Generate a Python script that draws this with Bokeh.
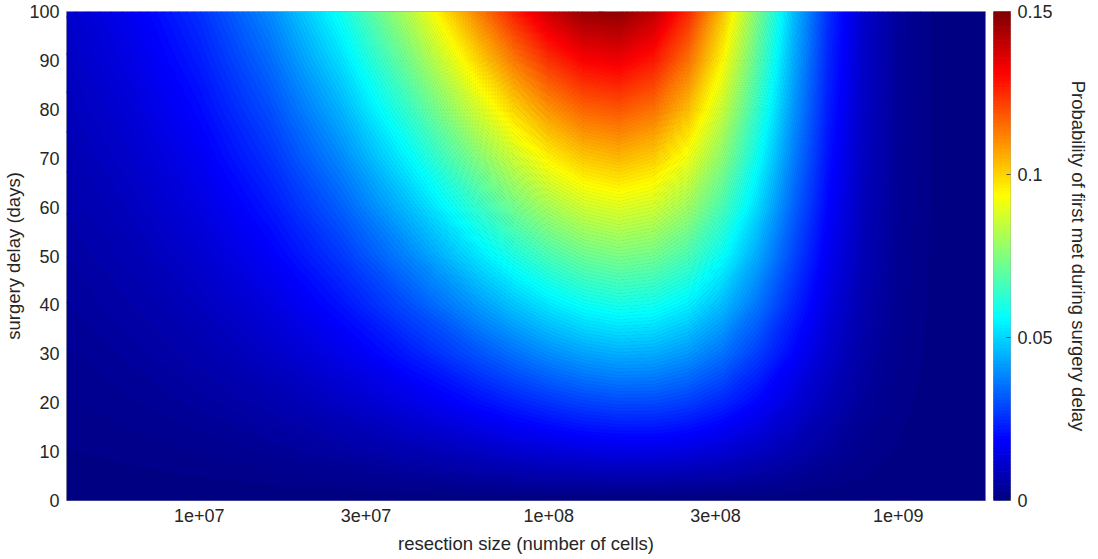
import numpy as np
from bokeh.plotting import figure
from bokeh.layouts import row
from bokeh.models import FixedTicker, Range1d
from bokeh.embed import file_html
from bokeh.resources import INLINE

# ---------------- data ----------------
# resection size (number of cells) at each grid column
sizes = [4.17e6, 6.31e6, 1.0e7, 1.585e7, 2.512e7, 3.981e7, 6.31e7, 7.943e7,
         1.0e8, 1.259e8, 1.585e8, 1.995e8, 2.512e8, 3.162e8, 3.981e8, 5.012e8,
         6.31e8, 7.943e8, 1.0e9, 1.259e9, 1.778e9]
# surgery delay (days) at each grid row
days = [0, 5, 10, 20, 30, 40, 50, 60, 70, 80, 90, 100]

# probability of first met during surgery delay, one list per delay row
prob_d000 = [0.0] * 21
prob_d005 = [0.00046, 0.00069, 0.00106, 0.00163, 0.00246, 0.00359, 0.00500, 0.00575, 0.00646, 0.00704, 0.00740,
             0.00742, 0.00701, 0.00615, 0.00492, 0.00349, 0.00214, 0.00109, 0.00044, 0.00013, 0.00001]
prob_d010 = [0.00093, 0.00139, 0.00215, 0.00330, 0.00496, 0.00724, 0.01007, 0.01157, 0.01298, 0.01413, 0.01482,
             0.01482, 0.01396, 0.01221, 0.00971, 0.00686, 0.00417, 0.00210, 0.00084, 0.00025, 0.00002]
prob_d020 = [0.00189, 0.00283, 0.00438, 0.00672, 0.01010, 0.01471, 0.02041, 0.02340, 0.02618, 0.02842, 0.02969,
             0.02955, 0.02768, 0.02402, 0.01893, 0.01321, 0.00792, 0.00392, 0.00153, 0.00044, 0.00003]
prob_d030 = [0.00289, 0.00432, 0.00670, 0.01027, 0.01542, 0.02242, 0.03101, 0.03548, 0.03961, 0.04286, 0.04459,
             0.04417, 0.04112, 0.03541, 0.02765, 0.01908, 0.01128, 0.00548, 0.00209, 0.00059, 0.00004]
prob_d040 = [0.00394, 0.00588, 0.00911, 0.01395, 0.02092, 0.03036, 0.04187, 0.04781, 0.05324, 0.05742, 0.05951,
             0.05865, 0.05426, 0.04637, 0.03586, 0.02446, 0.01426, 0.00682, 0.00255, 0.00070, 0.00005]
prob_d050 = [0.00502, 0.00750, 0.01162, 0.01777, 0.02661, 0.03855, 0.05300, 0.06039, 0.06706, 0.07210, 0.07441,
             0.07296, 0.06708, 0.05688, 0.04357, 0.02938, 0.01689, 0.00795, 0.00291, 0.00078, 0.00005]
prob_d060 = [0.00615, 0.00918, 0.01422, 0.02173, 0.03250, 0.04699, 0.06439, 0.07321, 0.08108, 0.08686, 0.08927,
             0.08707, 0.07954, 0.06691, 0.05077, 0.03385, 0.01919, 0.00889, 0.00320, 0.00084, 0.00005]
prob_d070 = [0.00732, 0.01093, 0.01692, 0.02583, 0.03858, 0.05567, 0.07605, 0.08626, 0.09526, 0.10170, 0.10406,
             0.10096, 0.09162, 0.07646, 0.05746, 0.03788, 0.02120, 0.00968, 0.00343, 0.00089, 0.00006]
prob_d080 = [0.00854, 0.01275, 0.01972, 0.03008, 0.04487, 0.06461, 0.08796, 0.09954, 0.10960, 0.11658, 0.11876,
             0.11459, 0.10330, 0.08552, 0.06366, 0.04150, 0.02294, 0.01033, 0.00361, 0.00092, 0.00006]
prob_d090 = [0.00981, 0.01464, 0.02263, 0.03449, 0.05138, 0.07380, 0.10012, 0.11303, 0.12408, 0.13149, 0.13334,
             0.12794, 0.11455, 0.09408, 0.06937, 0.04473, 0.02442, 0.01085, 0.00374, 0.00094, 0.00006]
prob_d100 = [0.01113, 0.01660, 0.02565, 0.03906, 0.05809, 0.08326, 0.11253, 0.12673, 0.13868, 0.14641, 0.14777,
             0.14098, 0.12537, 0.10213, 0.07460, 0.04760, 0.02569, 0.01128, 0.00384, 0.00096, 0.00006]

x_ticks = [1e7, 3e7, 1e8, 3e8, 1e9]
x_tick_labels = ["1e+07", "3e+07", "1e+08", "3e+08", "1e+09"]
y_ticks = [0, 10, 20, 30, 40, 50, 60, 70, 80, 90, 100]
cbar_ticks = [0, 0.05, 0.1, 0.15]
cbar_tick_labels = ["0", "0.05", "0.1", "0.15"]
cbar_max = 0.15

# ---------------- styling ----------------
FONT = "Liberation Sans"
TXT = "#262626"
EDGE = "#a6a6a6"
TOP, FRAME_H, BOTTOM = 11, 489, 59


def jet(f):
    r = min(max(1.5 - abs(4 * f - 3), 0.0), 1.0)
    g = min(max(1.5 - abs(4 * f - 2), 0.0), 1.0)
    b = min(max(1.5 - abs(4 * f - 1), 0.0), 1.0)
    return "#%02x%02x%02x" % (round(r * 255), round(g * 255), round(b * 255))


n_levels = 150
levels = np.linspace(0, cbar_max, n_levels + 1)
colors = [jet((i + 0.5) / n_levels) for i in range(n_levels)]
line_colors = [colors[0]] + colors

logx = np.log10(np.array(sizes))
z = np.array([prob_d000, prob_d005, prob_d010, prob_d020, prob_d030, prob_d040,
              prob_d050, prob_d060, prob_d070, prob_d080, prob_d090, prob_d100])
yv = np.array(days, dtype=float)

p = figure(frame_width=919, frame_height=FRAME_H,
           x_range=Range1d(logx[0], logx[-1]), y_range=Range1d(0, 100),
           output_backend="svg", toolbar_location=None,
           min_border_left=61, min_border_top=TOP, min_border_right=8, min_border_bottom=BOTTOM)
p.background_fill_color = "#000080"
p.border_fill_color = "white"
p.contour(logx, yv, z, levels=levels, fill_color=colors,
          line_color=line_colors, line_width=1.0)

p.grid.visible = False
p.outline_line_color = EDGE
p.outline_line_width = 1

p.xaxis.ticker = FixedTicker(ticks=[float(v) for v in np.log10(x_ticks)])
p.xaxis.major_label_overrides = {float(v): lab for v, lab in zip(np.log10(x_ticks), x_tick_labels)}
p.yaxis.ticker = FixedTicker(ticks=y_ticks)
p.xaxis.axis_label = "resection size (number of cells)"
p.yaxis.axis_label = "surgery delay (days)"
for ax in (p.xaxis[0], p.yaxis[0]):
    ax.major_tick_in = 0
    ax.major_tick_out = 0
    ax.minor_tick_line_color = None
    ax.axis_line_color = None
    ax.major_label_text_font = FONT
    ax.major_label_text_font_size = "18px"
    ax.major_label_text_color = TXT
    ax.axis_label_text_font = FONT
    ax.axis_label_text_font_size = "18.5px"
    ax.axis_label_text_font_style = "normal"
    ax.axis_label_text_color = TXT
p.xaxis.major_label_standoff = 8
p.xaxis.axis_label_standoff = 8
p.yaxis.major_label_standoff = 7
p.yaxis.axis_label_standoff = 2

# ---------------- colour bar ----------------
cb = figure(frame_width=17, frame_height=FRAME_H,
            x_range=Range1d(0, 1), y_range=Range1d(0, cbar_max),
            output_backend="svg", toolbar_location=None, y_axis_location="right",
            min_border_left=0, min_border_right=85, min_border_top=TOP, min_border_bottom=BOTTOM)
cb.quad(left=0, right=1, bottom=levels[:-1], top=levels[1:],
        fill_color=colors, line_color=colors, line_width=1)
cb.xaxis.visible = False
cb.grid.visible = False
cb.outline_line_color = EDGE
ya = cb.yaxis[0]
ya.ticker = FixedTicker(ticks=cbar_ticks)
ya.major_label_overrides = {t: lab for t, lab in zip(cbar_ticks, cbar_tick_labels)}
ya.major_tick_in = 4
ya.major_tick_out = 0
ya.major_tick_line_color = "#505050"
ya.minor_tick_line_color = None
ya.axis_line_color = None
ya.major_label_standoff = 7
ya.major_label_text_font = FONT
ya.major_label_text_font_size = "18px"
ya.major_label_text_color = TXT
ya.axis_label = "Probability of first met during surgery delay"
ya.axis_label_text_font = FONT
ya.axis_label_text_font_size = "18.5px"
ya.axis_label_text_font_style = "normal"
ya.axis_label_text_color = TXT
ya.axis_label_standoff = 12

layout = row(p, cb)
open("out.html", "w").write(file_html(layout, INLINE))
